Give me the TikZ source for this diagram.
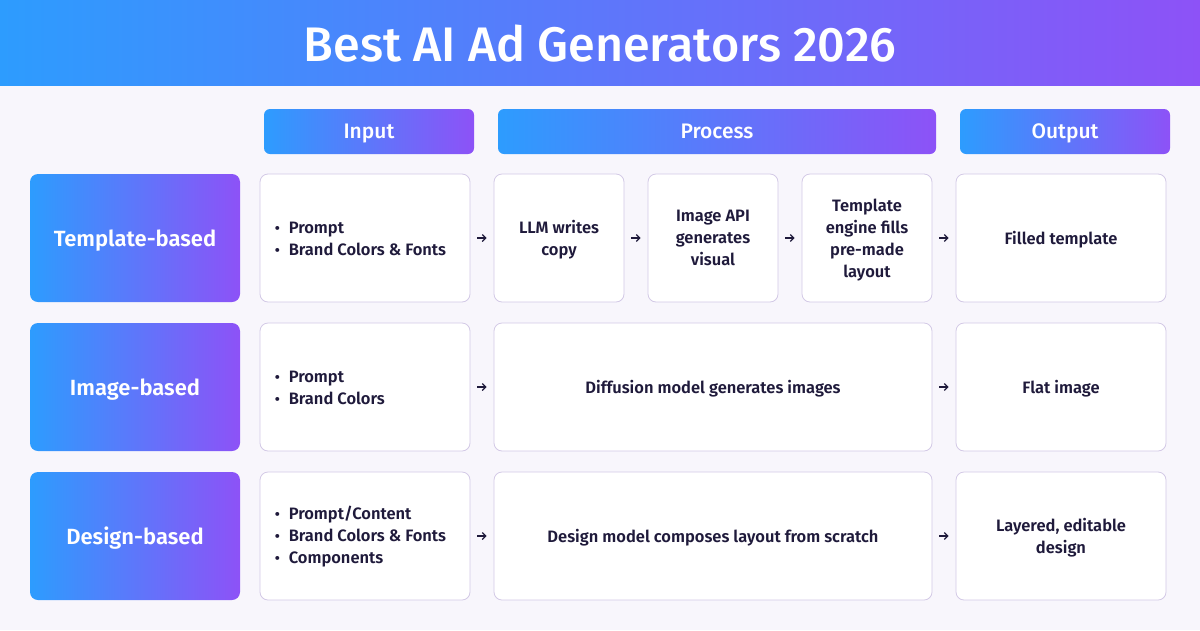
\documentclass[tikz,border=0pt]{standalone}
\usepackage{fontspec}
\setmainfont{Fira Sans}[BoldFont={Fira Sans SemiBold}]
\newfontfamily\titlefont{Fira Sans Medium}
\usetikzlibrary{arrows.meta}

\definecolor{gblue}{HTML}{2D9CFE}
\definecolor{gpurple}{HTML}{8D52F7}
\definecolor{bgcol}{HTML}{F8F6FC}
\definecolor{cellline}{HTML}{D3C9E6}
\definecolor{ink}{HTML}{1F1A3B}

\newcommand{\bitem}[1]{\makebox[14pt][l]{\scalebox{0.9}{\textbullet}}#1}

\begin{document}
\begin{tikzpicture}[x=1pt,y=-1pt]
	        \tikzstyle{hdr}=[rounded corners=6pt, left color=gblue, right color=gpurple, text=white, minimum height=45pt, text depth=0pt, font=\titlefont\fontsize{21}{24}\selectfont]
	        \tikzstyle{rowlabel}=[rounded corners=8pt, left color=gblue, right color=gpurple, text=white, minimum width=210pt, minimum height=128pt, text depth=0pt, font=\bfseries\fontsize{22}{26}\selectfont]
	        \tikzstyle{cell}=[rounded corners=8pt, draw=cellline, line width=0.8pt, fill=white, minimum height=128pt, text=ink, align=center, text depth=0pt, font=\bfseries\fontsize{16.5}{22}\selectfont]
	        \tikzstyle{listtext}=[anchor=west, align=left, text=ink, inner sep=0pt, font=\bfseries\fontsize{16.5}{22}\selectfont]
	        \tikzstyle{flow}=[-{Straight Barb[length=3.5pt,width=7pt]}, line width=1.2pt, draw=ink, shorten <=7pt, shorten >=7pt]
	
	        \fill[bgcol] (0,0) rectangle (1200,630);
	        \shade[left color=gblue, right color=gpurple] (0,0) rectangle (1200,85);
	        \node[text=white, text depth=0pt, font=\titlefont\fontsize{48.5}{52}\selectfont] (title) at (600,43) {Best AI Ad Generators 2026};
	
	        \node[hdr, minimum width=210pt] (hin) at (369,131.5) {Input};
	        \node[hdr, minimum width=438pt] (hproc) at (717,131.5) {Process};
	        \node[hdr, minimum width=210pt] (hout) at (1065,131.5) {Output};
	
	        \node[rowlabel] (tmpl) at (135,238) {Template-based};
	        \node[rowlabel] (img) at (135,387) {Image-based};
	        \node[rowlabel] (dsgn) at (135,536) {Design-based};
	
	        % template-based row
	        \node[cell, minimum width=210pt] (tmplin) at (365,238) {};
	        \node[listtext] (tmpllist) at ([xshift=15pt,yshift=-1pt]tmplin.west) {\bitem{Prompt}\\\bitem{Brand Colors \& Fonts}};
	        \node[cell, minimum width=130pt] (llm) at (559,238) {LLM writes\\copy};
	        \node[cell, minimum width=130pt] (imgapi) at (713,238) {Image API\\generates\\visual};
	        \node[cell, minimum width=130pt] (engine) at (867,238) {Template\\engine fills\\pre-made\\layout};
	        \node[cell, minimum width=210pt] (tmplout) at (1061,238) {Filled template};
	
	        % image-based row
	        \node[cell, minimum width=210pt] (imgin) at (365,387) {};
	        \node[listtext] (imglist) at ([xshift=15pt,yshift=-1pt]imgin.west) {\bitem{Prompt}\\\bitem{Brand Colors}};
	        \node[cell, minimum width=438pt] (diff) at (713,387) {Diffusion model generates images};
	        \node[cell, minimum width=210pt] (imgout) at (1061,387) {Flat image};
	
	        % design-based row
	        \node[cell, minimum width=210pt] (dsgnin) at (365,536) {};
	        \node[listtext] (dsgnlist) at ([xshift=15pt,yshift=-1pt]dsgnin.west) {\bitem{Prompt/Content}\\\bitem{Brand Colors \& Fonts}\\\bitem{Components}};
	        \node[cell, minimum width=438pt] (compose) at (713,536) {Design model composes layout from scratch};
	        \node[cell, minimum width=210pt] (dsgnout) at (1061,536) {Layered, editable\\design};
	
	        \draw[flow] (tmplin) -- (llm);
	        \draw[flow] (llm) -- (imgapi);
	        \draw[flow] (imgapi) -- (engine);
	        \draw[flow] (engine) -- (tmplout);
	        \draw[flow] (imgin) -- (diff);
	        \draw[flow] (diff) -- (imgout);
	        \draw[flow] (dsgnin) -- (compose);
	        \draw[flow] (compose) -- (dsgnout);
	    \end{tikzpicture}
\end{document}
